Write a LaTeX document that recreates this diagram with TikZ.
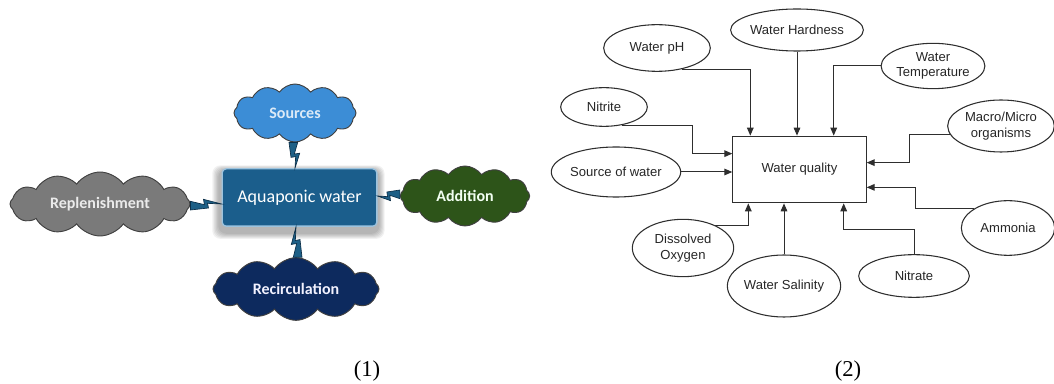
\documentclass[tikz,border=0pt]{standalone}
\usepackage{fontspec}
\setmainfont{Liberation Sans}
\newfontfamily\calfont{Carlito}
\newfontfamily\capfont{Liberation Serif}
\usetikzlibrary{shapes.symbols,shapes.geometric,arrows.meta,calc}
\pgfdeclarelayer{background}
\pgfsetlayers{background,main}
\definecolor{srcblue}{HTML}{3C8DD6}
\definecolor{srctxt}{HTML}{DCEAF7}
\definecolor{replgrey}{HTML}{7A7A7A}
\definecolor{addgreen}{HTML}{2D5419}
\definecolor{recnavy}{HTML}{0D2A5E}
\definecolor{aquafill}{HTML}{1B5E8C}
\definecolor{aquaedge}{HTML}{9CC3DE}
\definecolor{boltblue}{HTML}{1D5F86}
\definecolor{boltdark}{HTML}{0C2F48}
\definecolor{linegrey}{HTML}{2E2E2E}
\tikzset{
  cloudbox/.style={cloud, cloud puffs=12, cloud puff arc=110, cloud ignores aspect,
    draw=black!75, line width=0.7pt, inner sep=0pt,
    font=\calfont\bfseries\fontsize{12pt}{14pt}\selectfont},
  aquabox/.style={rectangle, rounded corners=3pt, fill=aquafill, draw=aquaedge,
    line width=1pt, text=white, minimum width=116pt, minimum height=43pt,
    font=\calfont\fontsize{13.5pt}{15pt}\selectfont},
  softshadow/.style={fill=black, opacity=0.055, rounded corners=6pt},
  bolt/.style={fill=boltblue, draw=boltdark, line width=0.5pt, line join=miter,
    to path={
      ($(\tikztostart)!4.5pt!-90:(\tikztotarget)$) --
      ($(\tikztostart)!2pt!90:(\tikztotarget)$) --
      ($(\tikztostart)!0.45!(\tikztotarget)!0.5pt!-90:(\tikztotarget)$) --
      ($(\tikztostart)!0.42!(\tikztotarget)!3.5pt!90:(\tikztotarget)$) --
      (\tikztotarget) --
      ($(\tikztostart)!0.55!(\tikztotarget)!0.5pt!90:(\tikztotarget)$) --
      ($(\tikztostart)!0.58!(\tikztotarget)!3pt!-90:(\tikztotarget)$) -- cycle}},
  ell/.style={ellipse, draw=linegrey, line width=0.8pt, inner sep=0pt, text=black!85,
    align=center, font=\fontsize{9.8pt}{11.5pt}\selectfont},
  qbox/.style={rectangle, draw=linegrey, line width=0.8pt, minimum width=100pt,
    minimum height=50pt, text=black!85, font=\fontsize{9.8pt}{11.5pt}\selectfont},
  arr/.style={draw=linegrey, line width=0.75pt, -{Triangle[length=6pt,width=5pt]}},
  captxt/.style={font=\capfont\fontsize{17pt}{19pt}\selectfont, inner sep=0pt}
}
\begin{document}
\begin{tikzpicture}[x=0.75pt, y=-0.75pt]
\useasboundingbox (0,0) rectangle (1054,384);
% ---------- panel (1) ----------
\node[aquabox] (aqua) at (299.5,197.5) {Aquaponic water};
\begin{pgfonlayer}{background}
  \foreach \s in {2,4,6,8,10,12}
    \fill[softshadow] ($(aqua.south west)+(-2-\s*0.6,6+\s*0.5)$) rectangle ($(aqua.north east)+(1+\s*0.5,2-\s*0.4)$);
\end{pgfonlayer}
\node[cloudbox, fill=srcblue, text=srctxt, minimum width=91.5pt, minimum height=43.5pt] (sources) at (295,113) {Sources};
\node[cloudbox, fill=replgrey, text=black!8, minimum width=135pt, minimum height=48pt] (repl) at (100,204) {Replenishment};
\node[cloudbox, fill=addgreen, text=green!5!white, minimum width=97pt, minimum height=45pt] (add) at (465,196) {Addition};
\node[cloudbox, fill=recnavy, text=blue!5!white, minimum width=124.5pt, minimum height=47pt] (recirc) at (296,289) {Recirculation};
\draw[bolt] (sources.south) to (sources.south |- aqua.north);
\draw[bolt] (repl.east) to (repl.east -| aqua.west);
\draw[bolt] (add.west) to (add.west -| aqua.east);
\draw[bolt] (recirc.north) to (recirc.north |- aqua.south);
% ---------- panel (2) ----------
\node[qbox] (wq) at (799.5,169.5) {Water quality};
\node[ell, minimum width=80pt, minimum height=35pt] (ph) at (657,48) {Water pH};
\node[ell, minimum width=81pt, minimum height=31.5pt] (hard) at (797,30) {Water Hardness};
\node[ell, minimum width=75pt, minimum height=34pt] (temp) at (933,66) {Water\\Temperature};
\node[ell, minimum width=65pt, minimum height=29pt] (nit) at (604,107) {Nitrite};
\node[ell, minimum width=80pt, minimum height=39pt] (mac) at (1001,126) {Macro/Micro\\organisms};
\node[ell, minimum width=83pt, minimum height=37.5pt] (srcw) at (616,172) {Source of water};
\node[ell, minimum width=70pt, minimum height=41pt] (amm) at (1008,228) {Ammonia};
\node[ell, minimum width=76pt, minimum height=43pt] (dox) at (683,248) {Dissolved\\Oxygen};
\node[ell, minimum width=76.5pt, minimum height=46.5pt] (sal) at (784,286) {Water Salinity};
\node[ell, minimum width=83pt, minimum height=32pt] (nitr) at (914,276) {Nitrate};
\draw[arr] (ph.-40) -| ($(wq.north west)+(18,0)$);
\draw[arr] (hard.south) -- (hard.south |- wq.north);
\draw[arr] (temp.west) -| ($(wq.north east)+(-33,0)$);
\draw[arr] (nit.-45) -| ($(wq.north west)+(-40,18)$) -- ($(wq.north west)+(0,18)$);
\draw[arr] (srcw.east) -- (srcw.east -| wq.west);
\draw[arr] (mac.190) -| ($(wq.north east)+(43,27)$) -- ($(wq.north east)+(0,27)$);
\draw[arr] (amm.150) -| ($(wq.south east)+(49,-16)$) -- ($(wq.south east)+(0,-16)$);
\draw[arr] (dox.35) -| ($(wq.south west)+(16,0)$);
\draw[arr] (sal.north) -- (sal.north |- wq.south);
\draw[arr] (nitr.north) |- ($(wq.south east)+(-23,26)$) -- ($(wq.south east)+(-23,0)$);
% ---------- captions ----------
\node[captxt] (cap1) at (367,371) {(1)};
\node[captxt] (cap2) at (848,371) {(2)};
\end{tikzpicture}
\end{document}
